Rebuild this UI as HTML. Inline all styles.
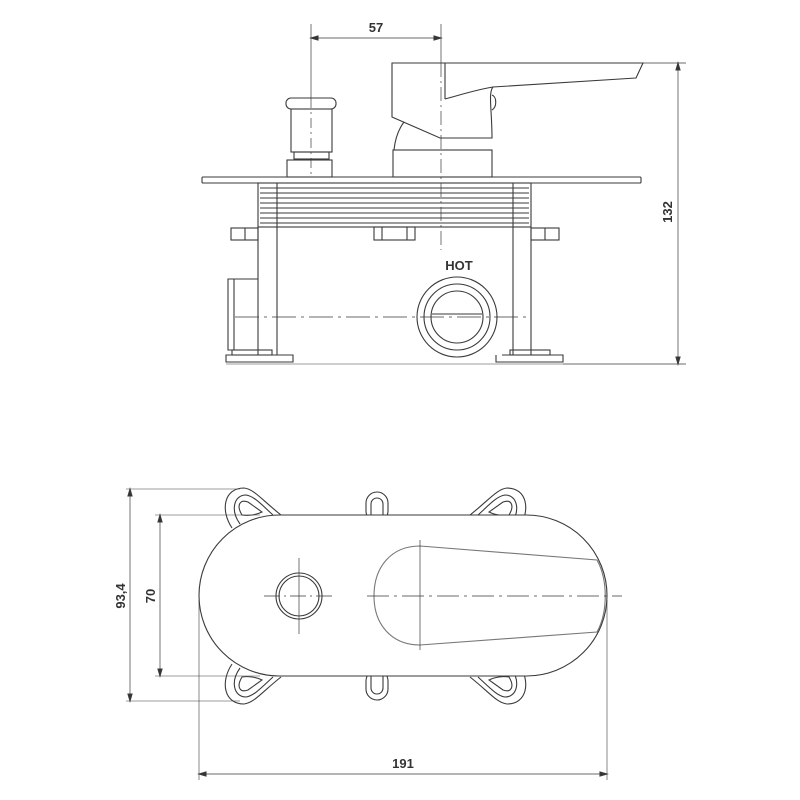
<!DOCTYPE html>
<html><head><meta charset="utf-8"><style>
html,body{margin:0;padding:0;background:#fff;}
svg{display:block}
text{font-family:"Liberation Sans",sans-serif;font-weight:bold;fill:#333;font-size:13px}
</style></head><body>
<svg width="800" height="800" viewBox="0 0 800 800" xmlns="http://www.w3.org/2000/svg">
<g fill="none" stroke="#3a3a3a" stroke-width="1.1">
<line x1="311" y1="24" x2="311" y2="98" stroke-width="0.7"/>
<line x1="441" y1="24" x2="441" y2="63" stroke-width="0.7"/>
<line x1="311" y1="38" x2="441" y2="38" stroke-width="0.7"/>
<path d="M311,38 l7,-2 v4z M441,38 l-7,-2 v4z" fill="#333"/>
<line x1="311" y1="98" x2="311" y2="175" stroke-dasharray="10,4,2,4" stroke-width="0.7"/>
<line x1="441" y1="63" x2="441" y2="250" stroke-dasharray="14,4,2,4" stroke-width="0.7"/>
<line x1="643" y1="63" x2="686" y2="63" stroke-width="0.7"/>
<line x1="563" y1="364" x2="686" y2="364" stroke-width="0.7"/>
<line x1="678" y1="63" x2="678" y2="364" stroke-width="0.7"/>
<path d="M678,63 l-2,7 h4z M678,364 l-2,-7 h4z" fill="#333"/>
<rect x="286" y="98" width="50" height="11" rx="5"/>
<rect x="291" y="109" width="41" height="43"/>
<rect x="294" y="152" width="35" height="7"/>
<rect x="287" y="160" width="45" height="17"/>
<path d="M392,63 H643 L636,78 L493,87 C488,93 492,110 492,138 H440 L392,117 Z"/>
<line x1="445" y1="63" x2="445" y2="99"/>
<path d="M445,99 C460,95 475,90 493,87"/>
<path d="M492,95 C497,97 497,107 492,110"/>
<path d="M404,122 C398,130 395,140 394,150"/>
<rect x="393" y="150" width="99" height="27"/>
<rect x="202" y="177" width="439" height="6" rx="1"/>
<rect x="258" y="183" width="273" height="44"/>
<line x1="260" y1="188" x2="529" y2="188"/>
<line x1="260" y1="193" x2="529" y2="193"/>
<line x1="260" y1="198" x2="529" y2="198"/>
<line x1="260" y1="203" x2="529" y2="203"/>
<line x1="260" y1="208" x2="529" y2="208"/>
<line x1="260" y1="213" x2="529" y2="213"/>
<line x1="260" y1="218" x2="529" y2="218"/>
<line x1="260" y1="223" x2="529" y2="223"/>
<line x1="277" y1="183" x2="277" y2="355"/>
<line x1="513" y1="183" x2="513" y2="355"/>
<line x1="258" y1="227" x2="258" y2="355"/>
<line x1="531" y1="227" x2="531" y2="355"/>
<rect x="231" y="228" width="27" height="12"/>
<line x1="245" y1="228" x2="245" y2="240"/>
<rect x="531" y="228" width="28" height="12"/>
<line x1="545" y1="228" x2="545" y2="240"/>
<rect x="374" y="227" width="41" height="13"/>
<line x1="382" y1="227" x2="382" y2="240"/>
<line x1="407" y1="227" x2="407" y2="240"/>
<path d="M258,279 H228 V350 H258"/>
<line x1="234" y1="279" x2="234" y2="350"/>
<path d="M232,355 H293 V362 H226 V355 H232"/>
<rect x="232" y="350" width="40" height="5"/>
<path d="M502,355 H563 V362 H496 V355"/>
<rect x="510" y="350" width="40" height="5"/>
<line x1="226" y1="364" x2="563" y2="364" stroke-width="0.6"/>
<circle cx="457" cy="317" r="40"/>
<circle cx="457" cy="317" r="33"/>
<circle cx="457" cy="317" r="26"/>
<line x1="432" y1="314" x2="482" y2="314"/>
<line x1="235" y1="317" x2="530" y2="317" stroke-dasharray="24,5,3,5" stroke-width="0.7"/>
<g id="lug">
<path d="M232,528 C220,510 224,488 244,488 C254,489 262,500 281,515"/>
<path d="M240,524 C230,510 234,495 246,495 C254,496 262,505 273,515"/>
<path d="M242,515 C236,505 240,499 248,502 L262,512 C256,515 248,516 242,515 Z"/>
</g>
<use href="#lug" transform="translate(751,0) scale(-1,1)"/>
<use href="#lug" transform="translate(0,1192) scale(1,-1)"/>
<use href="#lug" transform="translate(751,1192) scale(-1,-1)"/>
<rect x="366" y="492" width="22" height="30" rx="11"/>
<rect x="371" y="498" width="12" height="24" rx="6"/>
<rect x="366" y="670" width="22" height="30" rx="11"/>
<rect x="371" y="670" width="12" height="24" rx="6"/>
<rect x="199" y="515" width="408" height="161" rx="80.5" fill="#fff"/>
<circle cx="299" cy="596" r="23"/>
<circle cx="299" cy="596" r="20"/>
<line x1="299" y1="558" x2="299" y2="634" stroke-width="0.7"/>
<line x1="264" y1="596" x2="334" y2="596" stroke-dasharray="16,4,2,4" stroke-width="0.7"/>
<path d="M420,546 L597,560 C608,580 608,612 597,632 L420,645 C392,645 374,625 374,596 C374,566 392,546 420,546 Z" stroke="#777"/>
<line x1="420" y1="540" x2="420" y2="650" stroke-width="0.7"/>
<line x1="367" y1="596" x2="622" y2="596" stroke-dasharray="22,5,3,5" stroke-width="0.7"/>
<line x1="126" y1="489" x2="240" y2="489" stroke-width="0.6"/>
<line x1="126" y1="701" x2="240" y2="701" stroke-width="0.6"/>
<line x1="130" y1="489" x2="130" y2="701" stroke-width="0.7"/>
<path d="M130,489 l-2,7 h4z M130,701 l-2,-7 h4z" fill="#333"/>
<line x1="155" y1="515" x2="260" y2="515" stroke-width="0.6"/>
<line x1="155" y1="676" x2="260" y2="676" stroke-width="0.6"/>
<line x1="160" y1="515" x2="160" y2="676" stroke-width="0.7"/>
<path d="M160,515 l-2,7 h4z M160,676 l-2,-7 h4z" fill="#333"/>
<line x1="199" y1="600" x2="199" y2="780" stroke-width="0.6"/>
<line x1="607" y1="600" x2="607" y2="780" stroke-width="0.6"/>
<line x1="199" y1="774" x2="607" y2="774" stroke-width="0.7"/>
<path d="M199,774 l7,-2 v4z M607,774 l-7,-2 v4z" fill="#333"/>
</g>
<text x="376" y="32" text-anchor="middle">57</text>
<text x="459" y="270" text-anchor="middle" font-size="14">HOT</text>
<text transform="translate(672,212) rotate(-90)" text-anchor="middle">132</text>
<text transform="translate(125,596) rotate(-90)" text-anchor="middle">93,4</text>
<text transform="translate(155,596) rotate(-90)" text-anchor="middle">70</text>
<text x="403" y="768" text-anchor="middle">191</text>
</svg>
</body></html>
